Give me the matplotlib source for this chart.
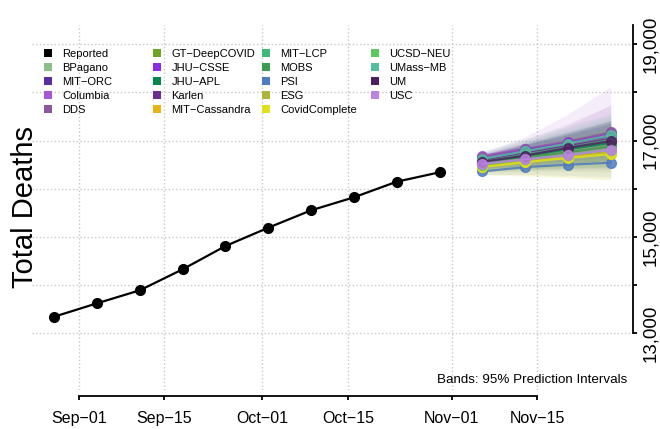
import numpy as np
import matplotlib
matplotlib.use("Agg")
import matplotlib.pyplot as plt
import matplotlib.dates as mdates
from matplotlib.patches import Patch
from matplotlib.legend import Legend

plt.rcParams["font.family"] = ["Liberation Sans", "DejaVu Sans"]

# observed weekly totals
rep_dates = np.array(["2021-08-28", "2021-09-04", "2021-09-11", "2021-09-18", "2021-09-25",
                      "2021-10-02", "2021-10-09", "2021-10-16", "2021-10-23", "2021-10-30"],
                     dtype="datetime64[D]")
reported = [13345, 13623, 13893, 14329, 14812, 15192, 15553, 15823, 16147, 16342]

fc_dates = np.array(["2021-11-06", "2021-11-13", "2021-11-20", "2021-11-27"], dtype="datetime64[D]")

models = ["BPagano", "MIT\u2212ORC", "Columbia", "DDS", "GT\u2212DeepCOVID", "JHU\u2212CSSE",
          "JHU\u2212APL", "Karlen", "MIT\u2212Cassandra", "MIT\u2212LCP", "MOBS", "PSI", "ESG",
          "CovidComplete", "UCSD\u2212NEU", "UMass\u2212MB", "UM", "USC"]
colors = ["#8DBF8B", "#5B2C9F", "#A855D6", "#8B58A0", "#6BA624", "#8B2BE2",
          "#00884A", "#6B2D8F", "#E8B414", "#3DBA78", "#3E9A4C", "#4F7CBE", "#AFB43A",
          "#DFE11C", "#5BC862", "#55BE9B", "#4E1F60", "#BC83E0"]

# point forecasts (Nov 06, 13, 20, 27)
fc_mid = [
    [16560, 16700, 16840, 16980],
    [16600, 16780, 16940, 17100],
    [16680, 16830, 16970, 17150],
    [16660, 16820, 16980, 17170],
    [16500, 16600, 16700, 16780],
    [16620, 16790, 16950, 17120],
    [16540, 16680, 16820, 16950],
    [16580, 16740, 16890, 17040],
    [16480, 16580, 16670, 16760],
    [16560, 16710, 16860, 17010],
    [16520, 16640, 16760, 16880],
    [16360, 16450, 16500, 16540],
    [16460, 16560, 16650, 16730],
    [16450, 16550, 16640, 16720],
    [16500, 16610, 16710, 16800],
    [16620, 16780, 16940, 17110],
    [16560, 16690, 16850, 16990],
    [16520, 16610, 16700, 16810],
]
# 95% interval bounds
fc_lo = [
    [16380, 16400, 16420, 16440],
    [16480, 16600, 16700, 16800],
    [16450, 16520, 16580, 16620],
    [16500, 16600, 16700, 16780],
    [16340, 16360, 16360, 16350],
    [16520, 16660, 16780, 16900],
    [16400, 16450, 16500, 16540],
    [16460, 16560, 16650, 16720],
    [16380, 16420, 16450, 16470],
    [16420, 16480, 16540, 16580],
    [16380, 16400, 16420, 16430],
    [16290, 16300, 16280, 16250],
    [16300, 16280, 16250, 16200],
    [16286, 16260, 16220, 16183],
    [16380, 16420, 16440, 16450],
    [16440, 16520, 16600, 16660],
    [16420, 16480, 16540, 16580],
    [16360, 16380, 16400, 16400],
]
fc_hi = [
    [16740, 17000, 17250, 17520],
    [16720, 16960, 17180, 17400],
    [16760, 17080, 17550, 18120],
    [16740, 17020, 17350, 17740],
    [16650, 16850, 17040, 17220],
    [16720, 16920, 17120, 17340],
    [16680, 16920, 17150, 17400],
    [16700, 16920, 17130, 17360],
    [16580, 16740, 16900, 17050],
    [16700, 16950, 17200, 17460],
    [16680, 16900, 17120, 17350],
    [16440, 16600, 16720, 16850],
    [16620, 16840, 17060, 17280],
    [16610, 16820, 17020, 17230],
    [16620, 16800, 16980, 17150],
    [16780, 17040, 17300, 17560],
    [16700, 16920, 17160, 17420],
    [16700, 16950, 17300, 17740],
]

x_ticks = np.array(["2021-09-01", "2021-09-15", "2021-10-01", "2021-10-15", "2021-11-01", "2021-11-15"],
                   dtype="datetime64[D]")
y_ticks = [13000, 14000, 15000, 16000, 17000, 18000, 19000]
y_labels = ["13,000", "", "15,000", "", "17,000", "", "19,000"]

fig = plt.figure(figsize=(6.6, 4.29), dpi=100)
ax = fig.add_axes([32 / 660, 39 / 429, 601 / 660, 365 / 429])

for i in range(len(models)):
    ax.fill_between(fc_dates, fc_lo[i], fc_hi[i], color=colors[i], alpha=0.1, lw=0)
for i in range(len(models)):
    ax.plot(fc_dates, fc_mid[i], color=colors[i], lw=1.6, marker="o", ms=7, alpha=0.85)

ax.plot(rep_dates, reported, color="black", lw=1.6, marker="o", ms=7)

span = fc_dates[-1] - rep_dates[0]
pad = span.astype(float) * 0.04
ax.set_xlim(mdates.date2num(rep_dates[0]) - pad, mdates.date2num(fc_dates[-1]) + pad)
ax.set_ylim(11823, 19400)

# R style axes
for s in ["top", "left"]:
    ax.spines[s].set_visible(False)
ax.spines["bottom"].set_position(("outward", 4))
ax.spines["bottom"].set_bounds(mdates.date2num(x_ticks[0]), mdates.date2num(x_ticks[-1]))
ax.spines["right"].set_bounds(13000, 19400)
for s in ["bottom", "right"]:
    ax.spines[s].set_linewidth(1.3)

ax.set_xticks(x_ticks)
ax.xaxis.set_major_formatter(mdates.DateFormatter("%b\u2212%d"))
ax.yaxis.tick_right()
ax.set_yticks(y_ticks)
ax.set_yticklabels(y_labels)
ax.tick_params(axis="x", direction="out", length=3, width=1.3, labelsize=11.5, pad=8)
ax.tick_params(axis="y", direction="out", length=3, width=1.3, labelsize=13.5, pad=3.5)
plt.setp(ax.get_yticklabels(), rotation=90, rotation_mode="anchor", ha="center", va="top")

ax.grid(True, linestyle=":", color="#c8c8c8", lw=1)
ax.set_axisbelow(True)

fig.text(25 / 660, 1 - 207 / 429, "Total Deaths", rotation=90, fontsize=21,
         ha="center", va="center")
ax.text(0.99, 0.027, "Bands: 95% Prediction Intervals", transform=ax.transAxes,
        fontsize=9.6, ha="right", va="center")

# legend in 4 equal columns
labels = ["Reported"] + models
lcolors = ["black"] + colors
for c in range(4):
    idx = range(c * 5, min(c * 5 + 5, len(labels)))
    handles = [Patch(facecolor=lcolors[k], edgecolor="none") for k in idx]
    leg = Legend(ax, handles, [labels[k] for k in idx], loc="upper left",
                 bbox_to_anchor=((43.7 - 32 + c * 109) / 601, (390 - 49) / 365),
                 frameon=False, fontsize=8, handlelength=0.75, handleheight=0.75,
                 handletextpad=0.95, labelspacing=0.36, borderpad=0, borderaxespad=0)
    ax.add_artist(leg)

fig.savefig("out.png", dpi=100)
